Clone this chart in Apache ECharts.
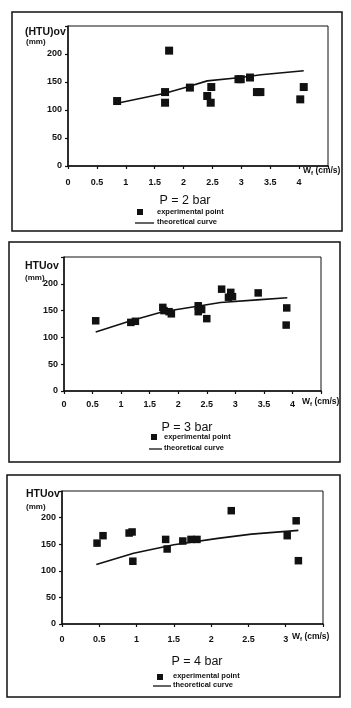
<!DOCTYPE html>
<html>
<head>
<meta charset="utf-8">
<script src="https://cdn.jsdelivr.net/npm/echarts@6/dist/echarts.min.js"></script>
<style>
  html, body { margin: 0; padding: 0; background: #fff; }
  #chart { width: 351px; height: 708px; }
</style>
</head>
<body>
<div id="chart"></div>
<script>
// P = 2 bar
var p2PointX = [0.85, 1.75, 1.68, 1.68, 2.11, 2.41, 2.48, 2.47, 2.95, 2.99, 3.15, 3.27, 3.33, 4.02, 4.08];
var p2PointY = [116, 206, 132, 113, 140, 125, 141, 113, 155, 155, 158, 132, 132, 119, 141];
var p2CurveX = [0.85, 1.68, 2.06, 2.41, 2.99, 3.34, 4.08];
var p2CurveY = [112, 130, 141, 152, 158, 163, 170];

// P = 3 bar
var p3PointX = [0.555, 1.17, 1.25, 1.73, 1.75, 1.84, 1.88, 2.35, 2.35, 2.41, 2.50, 2.76, 2.88, 2.92, 2.95, 3.40, 3.90, 3.89];
var p3PointY = [131, 128, 130, 156, 150, 148, 144, 159, 148, 152, 135, 190, 175, 184, 176, 183, 155, 123];
var p3CurveX = [0.555, 1.17, 1.73, 2.39, 2.74, 3.38, 3.91];
var p3CurveY = [110, 131, 148, 159, 165, 170, 174];

// P = 4 bar
var p4PointX = [0.47, 0.55, 0.90, 0.94, 0.95, 1.39, 1.41, 1.62, 1.73, 1.81, 2.27, 3.02, 3.14, 3.17];
var p4PointY = [152, 166, 171, 173, 118, 159, 141, 156, 159, 159, 213, 166, 194, 119];
var p4CurveX = [0.46, 0.96, 1.50, 2.09, 2.54, 3.17];
var p4CurveY = [112, 133, 149, 161, 169, 176];

var yTicks = [0, 50, 100, 150, 200];
var pressureLabels = ["P = 2 bar", "P = 3 bar", "P = 4 bar"];
var yNames = ["(HTU)ov", "HTUov", "HTUov"];

var FONT = "Liberation Sans, Arial, sans-serif";

function pairs(xs, ys) {
  return xs.map(function (x, i) { return [x, ys[i]]; });
}

// layout of the three panels (frame, plot area, text anchors)
var panels = [
  { frame: [12, 12, 330, 219], grid: [68, 26, 260, 140], xMax: 4.5, lblMargin: 12, sym: 8,
    yName: [25, 33], yUnit: [26, 43], wf: [303, 172], title: [185, 201],
    sq: [140, 212], txt: 157, line: [135, 154, 223], row: [212, 222] },
  { frame: [9, 242, 331, 220], grid: [64, 257, 257, 134], xMax: 4.5, lblMargin: 9, sym: 7.5,
    yName: [25, 267], yUnit: [25, 279], wf: [302, 403], title: [187, 428],
    sq: [154, 437], txt: 164, line: [149, 162, 449], row: [437, 448] },
  { frame: [7, 475, 333, 222], grid: [62, 491, 261, 133], xMax: 3.5, lblMargin: 11, sym: 7.5,
    yName: [26, 495], yUnit: [26, 508], wf: [292, 638], title: [197, 662],
    sq: [160, 677], txt: 173, line: [153, 171, 686], row: [676, 685] }
];

var pointSets = [pairs(p2PointX, p2PointY), pairs(p3PointX, p3PointY), pairs(p4PointX, p4PointY)];
var curveSets = [pairs(p2CurveX, p2CurveY), pairs(p3CurveX, p3CurveY), pairs(p4CurveX, p4CurveY)];

function drawChart() {
  var myChart = echarts.init(document.getElementById("chart"));
  var grids = [], xAxes = [], yAxes = [], series = [], graphic = [];

  panels.forEach(function (p, i) {
    grids.push({
      left: p.grid[0], top: p.grid[1], width: p.grid[2], height: p.grid[3],
      show: true, borderColor: "#111", borderWidth: 1, backgroundColor: "transparent"
    });
    xAxes.push({
      gridIndex: i, type: "value", min: 0, max: p.xMax, interval: 0.5,
      axisLine: { lineStyle: { color: "#111", width: 1.5 } },
      axisTick: { length: 3, lineStyle: { color: "#111", width: 1.2 } },
      splitLine: { show: false },
      axisLabel: {
        color: "#111", fontFamily: FONT, fontWeight: "bold", fontSize: 9, margin: p.lblMargin,
        showMaxLabel: true,
        formatter: function (v) { return v >= p.xMax ? "" : String(v); }
      }
    });
    yAxes.push({
      gridIndex: i, type: "value", min: 0, max: 250, interval: 50,
      axisLine: { show: true, lineStyle: { color: "#111", width: 1.5 } },
      axisTick: { show: true, length: 3, lineStyle: { color: "#111", width: 1.2 } },
      splitLine: { show: false },
      axisLabel: {
        color: "#111", fontFamily: FONT, fontWeight: "bold", fontSize: 9, margin: 6,
        formatter: function (v) { return yTicks.indexOf(v) >= 0 ? String(v) : ""; }
      }
    });
    series.push({
      name: "experimental point " + (i + 2), type: "scatter",
      xAxisIndex: i, yAxisIndex: i, data: pointSets[i],
      symbol: "rect", symbolSize: p.sym, clip: false,
      itemStyle: { color: "#111", opacity: 1 }, z: 3
    });
    series.push({
      name: "theoretical curve " + (i + 2), type: "line",
      xAxisIndex: i, yAxisIndex: i, data: curveSets[i],
      showSymbol: false, smooth: false,
      lineStyle: { color: "#111", width: 1.6 }, z: 2
    });

    // frame round the panel
    graphic.push({
      type: "rect", silent: true,
      shape: { x: p.frame[0], y: p.frame[1], width: p.frame[2], height: p.frame[3] },
      style: { fill: "none", stroke: "#111", lineWidth: 1.5 }
    });
    // y axis name
    graphic.push({
      type: "text", left: p.yName[0], top: p.yName[1] - 6,
      style: { text: yNames[i], font: "bold 10.5px " + FONT, fill: "#111" }
    });
    graphic.push({
      type: "text", left: p.yUnit[0], top: p.yUnit[1] - 5,
      style: { text: "(mm)", font: "bold 8px " + FONT, fill: "#111" }
    });
    // x axis name
    graphic.push({
      type: "text", left: p.wf[0], top: p.wf[1] - 6,
      style: {
        text: "{a|W}{b|f}{a| (cm/s)}",
        rich: {
          a: { font: "bold 8.5px " + FONT, fill: "#111", color: "#111" },
          b: { font: "bold 6px " + FONT, fill: "#111", color: "#111", padding: [5, 0, 0, 0] }
        }
      }
    });
    // pressure label
    graphic.push({
      type: "text", silent: true,
      style: {
        x: p.title[0], y: p.title[1], text: pressureLabels[i],
        font: "12.5px " + FONT, fill: "#111", textAlign: "center", textVerticalAlign: "middle"
      }
    });
    // legend
    graphic.push({
      type: "rect", silent: true,
      shape: { x: p.sq[0] - 3, y: p.sq[1] - 3, width: 6, height: 6 },
      style: { fill: "#111" }
    });
    graphic.push({
      type: "text", silent: true,
      style: {
        x: p.txt, y: p.row[0], text: "experimental point",
        font: "bold 7.5px " + FONT, fill: "#111", textVerticalAlign: "middle"
      }
    });
    graphic.push({
      type: "line", silent: true,
      shape: { x1: p.line[0], y1: p.line[2], x2: p.line[1], y2: p.line[2] },
      style: { stroke: "#111", lineWidth: 1.3 }
    });
    graphic.push({
      type: "text", silent: true,
      style: {
        x: p.txt, y: p.row[1], text: "theoretical curve",
        font: "bold 7.5px " + FONT, fill: "#111", textVerticalAlign: "middle"
      }
    });
  });

  myChart.setOption({
    animation: false,
    backgroundColor: "#fff",
    grid: grids,
    xAxis: xAxes,
    yAxis: yAxes,
    series: series,
    graphic: graphic
  });
}

drawChart();
</script>
</body>
</html>
